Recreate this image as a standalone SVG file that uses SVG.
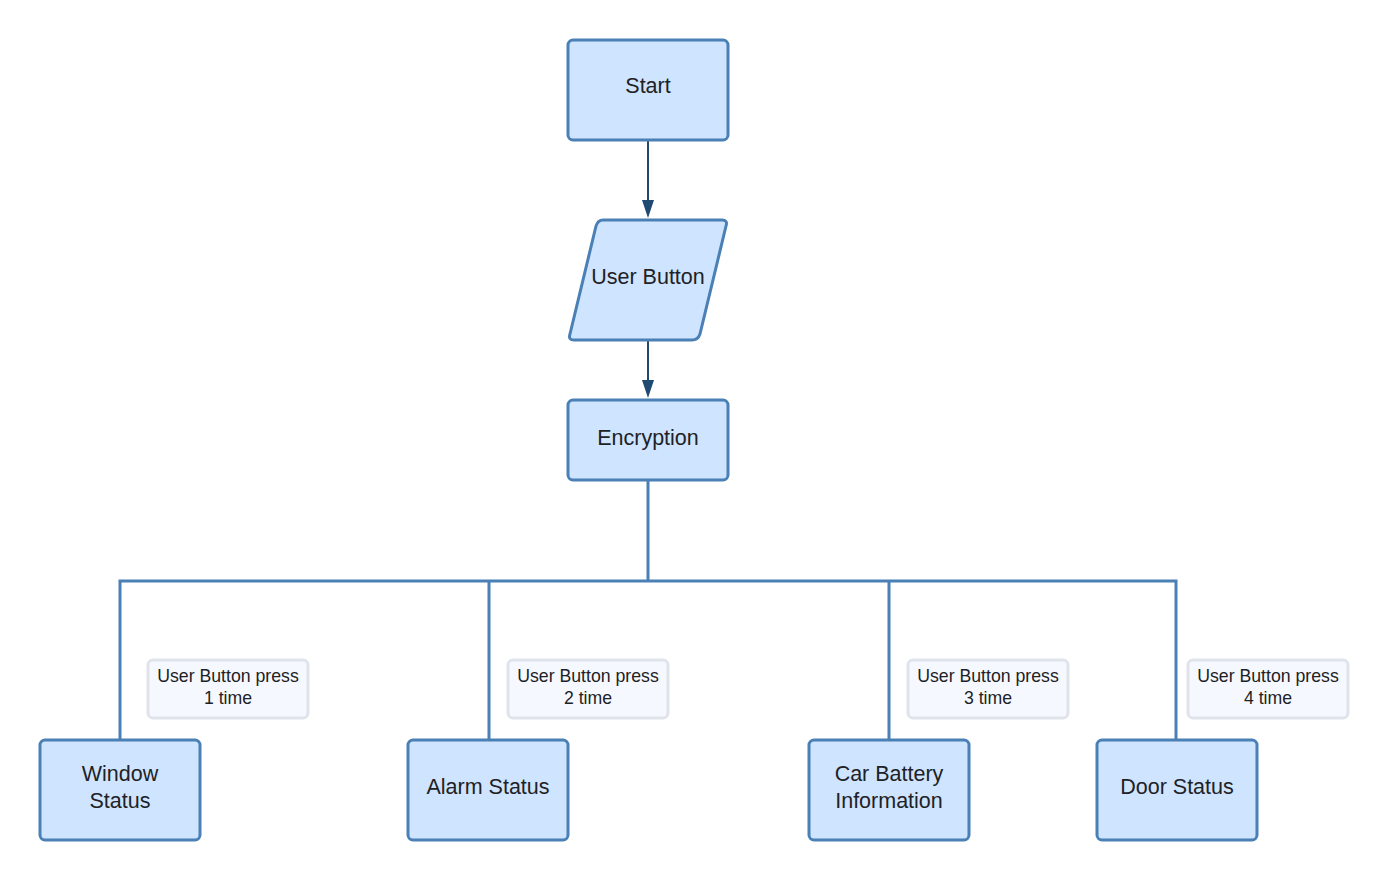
<svg xmlns="http://www.w3.org/2000/svg" width="1388" height="880" viewBox="0 0 1388 880">
  <defs>
    <style>
      .node { fill: #cfe4ff; stroke: #4a80b6; stroke-width: 3; stroke-linejoin: round; }
      .label-box { fill: #f5f9ff; stroke: #dfe4ea; stroke-width: 3; }
      .txt { font-family: "Liberation Sans", Arial, sans-serif; font-size: 21.5px; fill: #1e2226; text-anchor: middle; }
      .ltxt { font-family: "Liberation Sans", Arial, sans-serif; font-size: 17.7px; fill: #1e2226; text-anchor: middle; }
      .arrow { stroke: #1f4a72; stroke-width: 2; fill: none; }
      .head { fill: #1f4a72; }
      .tree { stroke: #4a80b6; stroke-width: 3; fill: none; }
    </style>
  </defs>
  <rect width="1388" height="880" fill="#ffffff"/>

  <!-- connectors -->
  <g id="connectors">
    <line class="arrow" x1="648" y1="141" x2="648" y2="200"/>
    <path class="head" d="M642 200 L654 200 L648 218 Z"/>
    <line class="arrow" x1="648" y1="341" x2="648" y2="380"/>
    <path class="head" d="M642 380 L654 380 L648 398 Z"/>
    <path class="tree" d="M648 480 V581 M120 740 V581 H1176 V740 M489 581 V740 M889 581 V740"/>
  </g>

  <g id="start">
    <rect class="node" x="568" y="40" width="160" height="100" rx="5"/>
    <text class="txt" x="648" y="93">Start</text>
  </g>

  <g id="user-button">
    <path class="node" d="M603 220 H722 Q728 220 726 226 L700 334 Q698 340 692 340 H574 Q568 340 570 334 L596 226 Q598 220 603 220 Z"/>
    <text class="txt" x="648" y="284">User Button</text>
  </g>

  <g id="encryption">
    <rect class="node" x="568" y="400" width="160" height="80" rx="5"/>
    <text class="txt" x="648" y="445">Encryption</text>
  </g>

  <g id="label-1">
    <rect class="label-box" x="148" y="660" width="160" height="58" rx="5"/>
    <text class="ltxt" x="228" y="682">User Button press</text>
    <text class="ltxt" x="228" y="704">1 time</text>
  </g>
  <g id="label-2">
    <rect class="label-box" x="508" y="660" width="160" height="58" rx="5"/>
    <text class="ltxt" x="588" y="682">User Button press</text>
    <text class="ltxt" x="588" y="704">2 time</text>
  </g>
  <g id="label-3">
    <rect class="label-box" x="908" y="660" width="160" height="58" rx="5"/>
    <text class="ltxt" x="988" y="682">User Button press</text>
    <text class="ltxt" x="988" y="704">3 time</text>
  </g>
  <g id="label-4">
    <rect class="label-box" x="1188" y="660" width="160" height="58" rx="5"/>
    <text class="ltxt" x="1268" y="682">User Button press</text>
    <text class="ltxt" x="1268" y="704">4 time</text>
  </g>

  <g id="window-status">
    <rect class="node" x="40" y="740" width="160" height="100" rx="5"/>
    <text class="txt" x="120" y="781">Window</text>
    <text class="txt" x="120" y="808">Status</text>
  </g>
  <g id="alarm-status">
    <rect class="node" x="408" y="740" width="160" height="100" rx="5"/>
    <text class="txt" x="488" y="794">Alarm Status</text>
  </g>
  <g id="car-battery">
    <rect class="node" x="809" y="740" width="160" height="100" rx="5"/>
    <text class="txt" x="889" y="781">Car Battery</text>
    <text class="txt" x="889" y="808">Information</text>
  </g>
  <g id="door-status">
    <rect class="node" x="1097" y="740" width="160" height="100" rx="5"/>
    <text class="txt" x="1177" y="794">Door Status</text>
  </g>
</svg>
